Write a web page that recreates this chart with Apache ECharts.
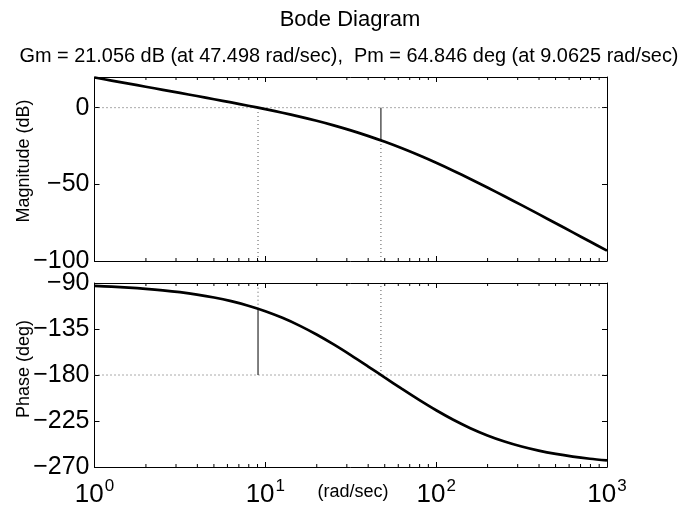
<!DOCTYPE html>
<html>
<head>
<meta charset="utf-8">
<script src="https://cdn.jsdelivr.net/npm/echarts@6/dist/echarts.min.js"></script>
<style>
html,body{margin:0;padding:0;background:#fff;}
#c{width:683px;height:508px;}
</style>
</head>
<body>
<div id="c"></div>
<script>
// ---- data ----
const freq = [1, 1.2589, 1.5849, 1.9953, 2.5119, 3.1623, 3.9811, 5.0119, 6.3096, 7.9433,
  10, 12.589, 15.849, 19.953, 25.119, 31.623, 39.811, 50.119, 63.096, 79.433,
  100, 125.89, 158.49, 199.53, 251.19, 316.23, 398.11, 501.19, 630.96, 794.33, 1000];
const magDb = [19.68, 17.68, 15.67, 13.66, 11.64, 9.62, 7.58, 5.51, 3.42, 1.27,
  -0.97, -3.32, -5.82, -8.54, -11.52, -14.79, -18.38, -22.29, -26.53, -31.09,
  -35.96, -41.11, -46.50, -52.07, -57.78, -63.59, -69.46, -75.38, -81.33, -87.29, -93.25];
const phaseDeg = [-92.86, -93.60, -94.53, -95.70, -97.17, -99.01, -101.32, -104.20, -107.78, -112.19,
  -117.58, -124.05, -131.68, -140.42, -150.13, -160.57, -171.48, -182.59, -193.64, -204.37,
  -214.50, -223.78, -232.01, -239.10, -245.06, -249.98, -253.98, -257.22, -259.82, -261.90, -263.56];
const magRange = [-100, 20];
const magStep = 50;
const phaseRange = [-270, -90];
const phaseStep = 45;
const freqRange = [1, 1000];
const minorTicks = [2,3,4,5,6,7,8,9,20,30,40,50,60,70,80,90,200,300,400,500,600,700,800,900];
const gmFreq = 47.498, gmDb = 21.056;
const pmFreq = 9.0625, pmDeg = 64.846;
const titleText = 'Bode Diagram';
const subText = 'Gm = 21.056 dB (at 47.498 rad/sec),  Pm = 64.846 deg (at 9.0625 rad/sec)';
const xName = '(rad/sec)';
const magName = 'Magnitude (dB)';
const phaseName = 'Phase (deg)';

const FONT = 'Liberation Sans, Arial, Helvetica, sans-serif';
const chart = echarts.init(document.getElementById('c'), null, {renderer: 'canvas'});

const grids = [
  {left: 94.5, top: 77, width: 512.5, height: 184, containLabel: false, outerBoundsMode: 'none'},
  {left: 94.5, top: 283, width: 512.5, height: 184, containLabel: false, outerBoundsMode: 'none'}
];
const axisLine = {show: true, onZero: false, lineStyle: {color: '#000', width: 1}};
const tick = {show: true, inside: true, length: 5, lineStyle: {color: '#000', width: 1}};

function xAx(grid, pos, labels) {
  return {
    type: 'log', logBase: 10, gridIndex: grid, position: pos,
    min: freqRange[0], max: freqRange[1],
    axisLine: axisLine, axisTick: tick, splitLine: {show: false},
    axisLabel: labels ? {
      show: true, margin: 11, color: '#000', fontFamily: FONT, fontSize: 26,
      formatter: v => '{b|10}{sup|' + Math.round(Math.log10(v)) + '}',
      rich: {
        b: {fontSize: 26, fontFamily: FONT, color: '#000', lineHeight: 30, verticalAlign: 'bottom'},
        sup: {fontSize: 17, fontFamily: FONT, color: '#000', lineHeight: 30, verticalAlign: 'top', padding: [0,0,0,1]}
      }
    } : {show: false}
  };
}
function yAx(grid, pos, range, step, labels, hideMax) {
  return {
    type: 'value', gridIndex: grid, position: pos,
    min: range[0], max: range[1], interval: step,
    axisLine: axisLine, axisTick: tick, splitLine: {show: false},
    axisLabel: labels ? {
      show: true, margin: 5, color: '#000', fontFamily: FONT, fontSize: 25,
      showMaxLabel: !hideMax,
      formatter: v => String(v).replace('-', '\u2212')
    } : {show: false}
  };
}

const pair = (xs, ys) => xs.map((x, i) => [x, ys[i]]);
const dotted = {color: '#555', width: 1, type: [1, 3]};
const thin = {color: '#000', width: 1};

function seg(xi, yi, pts, style) {
  return {type: 'line', xAxisIndex: xi, yAxisIndex: yi, data: pts, symbol: 'none',
    lineStyle: style, silent: true, animation: false, z: 3};
}

function minorSeries(xi, yi, yRange) {
  return {
    type: 'custom', xAxisIndex: xi, yAxisIndex: yi, silent: true, animation: false, z: 4,
    data: minorTicks.map(v => [v]),
    renderItem: (params, api) => {
      const v = api.value(0);
      const b = api.coord([v, yRange[0]]);
      const t = api.coord([v, yRange[1]]);
      return {type: 'group', children: [
        {type: 'line', shape: {x1: b[0], y1: b[1], x2: b[0], y2: b[1] - 3}, style: {stroke: '#000', lineWidth: 1}},
        {type: 'line', shape: {x1: t[0], y1: t[1], x2: t[0], y2: t[1] + 3}, style: {stroke: '#000', lineWidth: 1}}
      ]};
    }
  };
}

const txt = (text, x, y, size, rot) => ({
  type: 'text', x: x, y: y, rotation: rot || 0,
  style: {text: text, fontFamily: FONT, fontSize: size, fill: '#000', align: 'center', verticalAlign: 'middle'}
});

const option = {
  backgroundColor: '#fff',
  animation: false,
  grid: grids,
  xAxis: [xAx(0, 'bottom', false), xAx(0, 'top', false), xAx(1, 'bottom', true), xAx(1, 'top', false)],
  yAxis: [
    yAx(0, 'left', magRange, magStep, true, true), yAx(0, 'right', magRange, magStep, false, true),
    yAx(1, 'left', phaseRange, phaseStep, true, false), yAx(1, 'right', phaseRange, phaseStep, false, false)
  ],
  graphic: [
    txt(titleText, 350, 20, 22),
    txt(subText, 349, 57, 19.9),
    txt(xName, 353, 492, 18),
    txt(magName, 24, 161, 18, Math.PI / 2),
    txt(phaseName, 24, 369, 18, Math.PI / 2)
  ],
  series: [
    // reference lines, magnitude
    seg(0, 0, [[freqRange[0], 0], [freqRange[1], 0]], dotted),
    seg(0, 0, [[pmFreq, magRange[0]], [pmFreq, 0]], dotted),
    seg(0, 0, [[gmFreq, magRange[0]], [gmFreq, -gmDb]], dotted),
    seg(0, 0, [[gmFreq, -gmDb], [gmFreq, 0]], thin),
    // reference lines, phase
    seg(2, 2, [[freqRange[0], -180], [freqRange[1], -180]], dotted),
    seg(2, 2, [[gmFreq, -180], [gmFreq, phaseRange[1]]], dotted),
    seg(2, 2, [[pmFreq, -180 + pmDeg], [pmFreq, phaseRange[1]]], dotted),
    seg(2, 2, [[pmFreq, -180], [pmFreq, -180 + pmDeg]], thin),
    // curves
    {type: 'line', xAxisIndex: 0, yAxisIndex: 0, data: pair(freq, magDb), symbol: 'none', smooth: 0.3,
      lineStyle: {color: '#000', width: 2.7}, z: 5, clip: true},
    {type: 'line', xAxisIndex: 2, yAxisIndex: 2, data: pair(freq, phaseDeg), symbol: 'none', smooth: 0.3,
      lineStyle: {color: '#000', width: 2.7}, z: 5, clip: true},
    minorSeries(0, 0, magRange),
    minorSeries(2, 2, phaseRange)
  ]
};
chart.setOption(option);
</script>
</body>
</html>
